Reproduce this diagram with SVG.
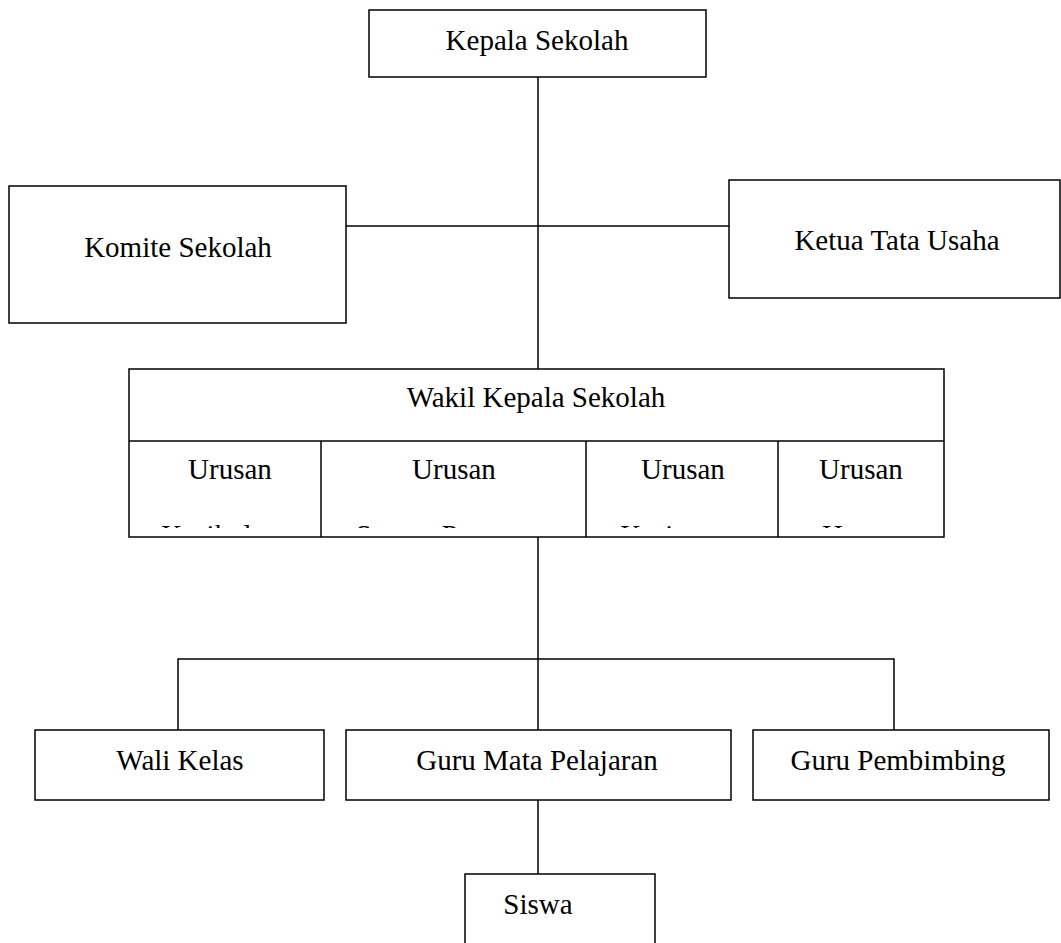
<svg xmlns="http://www.w3.org/2000/svg" width="1061" height="943" viewBox="0 0 1061 943">
<style>
.box{fill:#fff;stroke:#000;stroke-width:1.5}
.ln{stroke:#000;stroke-width:1.5;fill:none}
text{font-family:"Liberation Serif","Times New Roman",serif;font-size:29px;fill:#000;text-anchor:middle}
</style>
<defs>
<clipPath id="cellclip"><rect x="129" y="441" width="815" height="87"/></clipPath>
</defs>
<rect width="1061" height="943" fill="#fff"/>
<g id="connectors">
<line class="ln" x1="538" y1="77" x2="538" y2="369"/>
<line class="ln" x1="346" y1="226" x2="729" y2="226"/>
<line class="ln" x1="538" y1="537" x2="538" y2="730"/>
<polyline class="ln" points="178,730 178,659 894,659 894,730"/>
<line class="ln" x1="538" y1="800" x2="538" y2="874"/>
</g>
<g id="kepala">
<rect class="box" x="369" y="10" width="337" height="67"/>
<text x="537" y="50">Kepala Sekolah</text>
</g>
<g id="komite">
<rect class="box" x="9" y="186" width="337" height="137"/>
<text x="178" y="257">Komite Sekolah</text>
</g>
<g id="ketua">
<rect class="box" x="729" y="180" width="331" height="118"/>
<text x="897" y="250">Ketua Tata Usaha</text>
</g>
<g id="wakil">
<rect class="box" x="129" y="369" width="815" height="168"/>
<line class="ln" x1="129" y1="441" x2="944" y2="441"/>
<line class="ln" x1="321" y1="441" x2="321" y2="537"/>
<line class="ln" x1="586" y1="441" x2="586" y2="537"/>
<line class="ln" x1="778" y1="441" x2="778" y2="537"/>
<text x="536" y="407">Wakil Kepala Sekolah</text>
<text x="230" y="479">Urusan</text>
<text x="454" y="479">Urusan</text>
<text x="683" y="479">Urusan</text>
<text x="861" y="479">Urusan</text>
<g clip-path="url(#cellclip)">
<text x="225" y="545">Kurikulum</text>
<text x="455" y="545">Sarana Prasarana</text>
<text x="683" y="545">Kesiswaan</text>
<text x="863" y="545">Humas</text>
</g>
</g>
<g id="wali">
<rect class="box" x="35" y="730" width="289" height="70"/>
<text x="180" y="770">Wali Kelas</text>
</g>
<g id="guru-mapel">
<rect class="box" x="346" y="730" width="385" height="70"/>
<text x="537" y="770">Guru Mata Pelajaran</text>
</g>
<g id="guru-bk">
<rect class="box" x="753" y="730" width="296" height="70"/>
<text x="898" y="770">Guru Pembimbing</text>
</g>
<g id="siswa">
<rect class="box" x="465" y="874" width="190" height="80"/>
<text x="538" y="914">Siswa</text>
</g>
</svg>
